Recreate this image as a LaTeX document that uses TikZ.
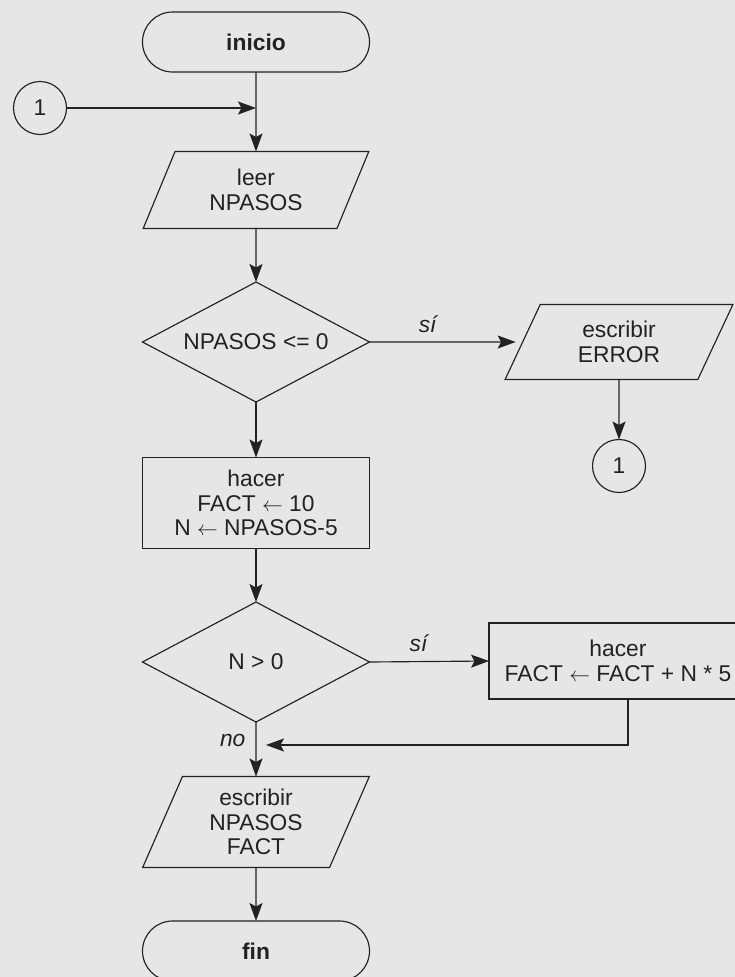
\documentclass[tikz,border=0pt]{standalone}
\usepackage{fontspec}
\setmainfont{Liberation Sans}
\usetikzlibrary{shapes.geometric,shapes.misc,arrows.meta,calc}
\definecolor{bg}{HTML}{E6E6E6}
\definecolor{ink}{HTML}{222222}
\newcommand{\chartfont}{\fontsize{22.8}{24.5}\selectfont}
\begin{document}
\begin{tikzpicture}[x=1pt,y=-1pt,
  base/.style={draw=ink, line width=1.15pt, text=ink, inner sep=0pt, outer sep=0pt,
    align=center, font=\chartfont},
  term/.style={base, rounded rectangle, minimum width=227pt, minimum height=60pt,
    font=\chartfont\bfseries},
  iobox/.style={base, trapezium, trapezium stretches=true,
    trapezium left angle=#1, trapezium right angle=180-#1},
  procbox/.style={base, rectangle},
  decision/.style={base, diamond, aspect=1.9, minimum width=227pt, minimum height=120pt},
  link/.style={base, circle, minimum size=53pt},
  arr/.style={draw=ink, line width=1.15pt, -{Stealth[length=18pt,width=13pt,inset=3.5pt]}},
  lbl/.style={text=ink, font=\chartfont\itshape, inner sep=0pt}]

% page and background
\fill[bg] (0,0) rectangle (735,977);
\useasboundingbox (0,0) rectangle (735,977);
\clip (0,0) rectangle (735,977);

% main column
\node[term] (inicio) at (256,42) {inicio};
\node[link] (c1) at (40,108) {1};
\node[iobox=66, minimum width=226pt, minimum height=77pt] (leer) at (256,190) {leer\\NPASOS};
\node[decision] (d1) at (256,342) {NPASOS <= 0};
\node[iobox=66, minimum width=228pt, minimum height=75pt] (err) at (619,342) {escribir\\ERROR};
\node[link] (c2) at (619,466) {1};
\node[procbox, minimum width=227pt, minimum height=91pt] (h1) at (256,503)
  {hacer\\FACT $\leftarrow$ 10\\N $\leftarrow$ NPASOS-5};
\node[decision] (d2) at (256,662) {N > 0};
\node[procbox, minimum width=258pt, minimum height=76pt] (h2) at (618,661)
  {hacer\\FACT $\leftarrow$ FACT + N * 5};
\node[iobox=69, minimum width=227pt, minimum height=91pt] (out) at (256,822)
  {escribir\\NPASOS\\FACT};
\node[term] (fin) at (256,951) {fin};

\coordinate (m1) at (256,108);
\coordinate (m2) at (256,745);

% connectors
\draw[arr] (inicio.south) -- (leer.north);
\draw[arr] (c1.east) -- (m1);
\draw[arr] (leer.south) -- (d1.north);
\draw[arr, shorten >=7pt] (d1.east) -- (err.west)
  node[lbl, pos=0.38, above=9pt] {sí};
\draw[arr] (err.south) -- (c2.north);
\draw[arr] (d1.south) -- (h1.north);
\draw[arr] (h1.south) -- (d2.north);
\draw[arr] (d2.east) -- (h2.west) node[lbl, pos=0.41, above=9pt] {sí};
\draw[arr, shorten >=10pt] ($(h2.south)+(10,0)$) |- (m2);
\draw[arr] (d2.south) -- (out.north) node[lbl, pos=0.33, left=10pt] {no};
\draw[arr] (out.south) -- (fin.north);
\end{tikzpicture}
\end{document}
